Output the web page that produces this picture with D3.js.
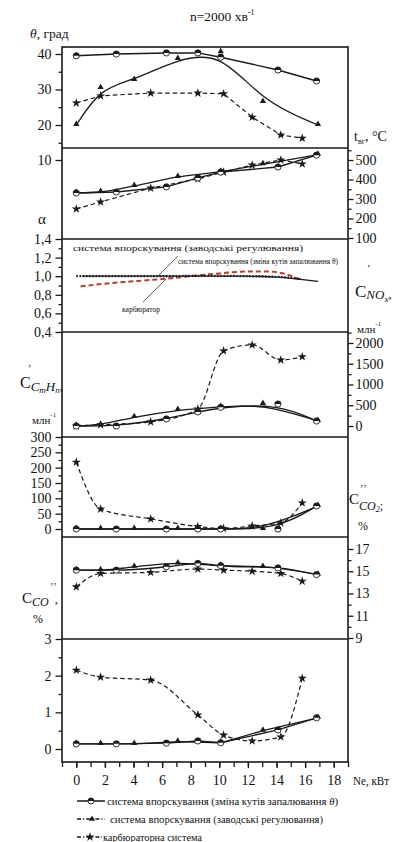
<!DOCTYPE html>
<html>
<head>
<meta charset="utf-8">
<script src="https://cdn.jsdelivr.net/npm/d3@7"></script>
<style>
  body { margin: 0; background: #fff; }
  svg { display: block; }
  text { font-family: "Liberation Serif", "DejaVu Serif", serif; fill: #111; }
</style>
</head>
<body>
<svg id="chart" width="395" height="842"></svg>
<script>
// Ne, кВт of the measured points, per system
const neCirc = [0, 2.8, 6.3, 8.5, 10.1, 14.1, 16.8];      // впорскування, зміна кутів θ
const neTri = [0, 1.7, 4.05, 7.1, 10.1, 13.05, 16.9];      // впорскування, заводські
const neStar = [0, 1.7, 5.2, 8.5, 10.3, 12.3, 14.3, 15.8]; // карбюратор

// θ, град
const thetaCirc = [39.5, 40, 40.3, 40.3, 39.1, 35.5, 32.4];
const thetaTri = [20, 30.4, 32.7, 38.6, 40.5, 26.5, 20];
const thetaStar = [26.2, 28.2, 29, 29, 28.8, 22.2, 17.2, 16.3];

// t_вг, °C
const tCirc = [331, 336, 362, 408, 438, 464, 525];
const tTri = [331, 336, 367, 413, 440, 478, 527];
const tStar = [249, 285, 356, 403, 438, 474, 500, 480];

// α (curves only, no markers)
const neAlphaCirc = [0.4, 3, 6, 9, 12, 14, 16.9];
const alphaCirc = [1.0, 1.0, 1.0, 1.0, 1.0, 0.99, 0.945];
const neAlphaTri = [0, 3, 6, 9, 12, 14.5, 15.7];
const alphaTri = [1.0, 1.0, 1.0, 1.005, 1.0, 0.99, 0.97];
const neAlphaCarb = [0.3, 2, 4, 6, 8, 10, 12, 13.5, 14.7, 15.7];
const alphaCarb = [0.89, 0.92, 0.945, 0.97, 1.0, 1.03, 1.05, 1.05, 1.02, 0.96];

// C'NOx, млн-1
const noxCirc = [0, 0, 170, 340, 450, 530, 120];
const noxTri = [0, 25, 215, 385, 460, 530, 120];
const noxStar = [0, 30, 100, 410, 1810, 1955, 1590, 1670];

// C'CmHn, млн-1
const chCirc = [0, 0, 0, 0, 0, 0, 75];
const chTri = [0, 0, 0, 0, 0, 0, 75];
const chStar = [218, 65, 33, 8, 2, 10, 20, 85];

// C''CO2, %
const co2Circ = [15.1, 15.1, 15.4, 15.7, 15.5, 15.3, 14.7];
const co2Tri = [15.1, 15.1, 15.4, 15.7, 15.5, 15.4, 14.7];
const co2Star = [13.6, 14.8, 14.9, 15.2, 15.1, 15.0, 14.8, 14.1];

// C''CO, %
const coCirc = [0.14, 0.14, 0.16, 0.22, 0.17, 0.52, 0.85];
const coTri = [0.14, 0.14, 0.14, 0.2, 0.17, 0.5, 0.85];
const coStar = [2.15, 1.96, 1.88, 0.93, 0.38, 0.22, 0.33, 1.93];

// tick values
const neTicks = d3.range(0, 19, 2);
const neMinor = d3.range(-1, 20, 1);

const svg = d3.select('#chart');
const L = 62, R = 348, T = 47, B = 762;
const ink = '#1a1a1a';

const x = d3.scaleLinear().domain([-1, 19]).range([L, R]);

const yTheta = d3.scaleLinear().domain([20, 40]).range([125, 54]);
const yT = d3.scaleLinear().domain([100, 500]).range([238, 160]);
const yTen = d3.scaleLinear().domain([0, 10]).range([239, 160]);
const yAlpha = d3.scaleLinear().domain([0.4, 1.4]).range([332, 239]);
const yNOx = d3.scaleLinear().domain([0, 2000]).range([426, 343]);
const yCH = d3.scaleLinear().domain([0, 300]).range([529, 437]);
const yCO2 = d3.scaleLinear().domain([9, 17]).range([638, 549]);
const yCO = d3.scaleLinear().domain([0, 3]).range([749, 639]);

const comma = d => d3.format('.1f')(d).replace('.', ',');

// frame and panel separators
svg.append('rect')
  .attr('x', L).attr('y', T).attr('width', R - L).attr('height', B - T)
  .attr('fill', 'none').attr('stroke', ink).attr('stroke-width', 1.6);

[148, 239, 332, 437, 537, 639].forEach(yy => {
  svg.append('line')
    .attr('x1', L).attr('x2', R).attr('y1', yy).attr('y2', yy)
    .attr('stroke', ink).attr('stroke-width', 1.6);
});

function yAxis(scale, side, major, minor, fmt) {
  const xPos = side === 'left' ? L : R;
  const mk = side === 'left' ? d3.axisLeft : d3.axisRight;
  if (minor.length) {
    const gm = svg.append('g').attr('transform', `translate(${xPos},0)`)
      .call(mk(scale).tickValues(minor).tickSize(3.5).tickFormat(''));
    gm.select('.domain').remove();
    gm.selectAll('line').attr('stroke', ink).attr('stroke-width', 1.3);
  }
  const g = svg.append('g').attr('transform', `translate(${xPos},0)`)
    .call(mk(scale).tickValues(major).tickSize(side === 'left' ? 6.5 : 5.5)
      .tickPadding(side === 'left' ? 4 : 2).tickFormat(fmt || d3.format('d')));
  g.select('.domain').remove();
  g.selectAll('line').attr('stroke', ink).attr('stroke-width', 1.3);
  g.selectAll('text').attr('font-family', '"Liberation Serif", serif')
    .attr('font-size', 14).attr('fill', ink);
}

yAxis(yTheta, 'left', [20, 30, 40], [15, 25, 35]);
yAxis(yTen, 'left', [10], []);
yAxis(yT, 'right', [100, 200, 300, 400, 500], [150, 250, 350, 450, 550]);
yAxis(yAlpha, 'left', [0.4, 0.6, 0.8, 1.0, 1.2, 1.4], [0.5, 0.7, 0.9, 1.1, 1.3], comma);
yAxis(yNOx, 'right', [0, 500, 1000, 1500, 2000], [250, 750, 1250, 1750, 2250]);
yAxis(yCH, 'left', [0, 50, 100, 150, 200, 250, 300], [25, 75, 125, 175, 225, 275]);
yAxis(yCO2, 'right', [9, 11, 13, 15, 17], [10, 12, 14, 16]);
yAxis(yCO, 'left', [0, 1, 2, 3], [0.5, 1.5, 2.5]);

// bottom axis
const gx = svg.append('g').attr('transform', `translate(0,${B})`)
  .call(d3.axisBottom(x).tickValues(neMinor).tickSize(5).tickFormat(''));
gx.select('.domain').remove();
gx.selectAll('line').attr('stroke', ink).attr('stroke-width', 1.3);
const gx2 = svg.append('g').attr('transform', `translate(0,${B})`)
  .call(d3.axisBottom(x).tickValues(neTicks).tickSize(6).tickPadding(7));
gx2.select('.domain').remove();
gx2.selectAll('line').attr('stroke', ink).attr('stroke-width', 1.3);
gx2.selectAll('text').attr('font-family', '"Liberation Serif", serif')
  .attr('font-size', 14).attr('fill', ink);

// markers
const arcTop = d3.arc()({ innerRadius: 0, outerRadius: 3.1, startAngle: -Math.PI / 2, endAngle: Math.PI / 2 });
function circles(xs, ys, y) {
  const g = svg.append('g');
  const pts = d3.zip(xs, ys);
  g.selectAll('circle').data(pts).join('circle')
    .attr('cx', d => x(d[0])).attr('cy', d => y(d[1])).attr('r', 3.1)
    .attr('fill', '#fff').attr('stroke', ink).attr('stroke-width', 0.9);
  g.selectAll('path').data(pts).join('path')
    .attr('d', arcTop)
    .attr('transform', d => `translate(${x(d[0])},${y(d[1])})`)
    .attr('fill', ink);
}
function symbols(xs, ys, y, type, size) {
  svg.append('g').selectAll('path').data(d3.zip(xs, ys)).join('path')
    .attr('d', d3.symbol().type(type).size(size))
    .attr('transform', d => `translate(${x(d[0])},${y(d[1]) - (type === d3.symbolTriangle ? 0.8 : 0)})`)
    .attr('fill', ink);
}
function curve(xs, ys, y, c, dash, width, color) {
  const line = d3.line().x(d => x(d[0])).y(d => y(d[1])).curve(c);
  svg.append('path').datum(d3.zip(xs, ys))
    .attr('d', line).attr('fill', 'none')
    .attr('stroke', color || ink).attr('stroke-width', width || 1.3)
    .attr('stroke-dasharray', dash || null);
}

const panels = [
  { y: yTheta, c: thetaCirc, t: thetaTri, s: thetaStar, cc: d3.curveLinear, tc: d3.curveBasis, sc: d3.curveLinear },
  { y: yT, c: tCirc, t: tTri, s: tStar, cc: d3.curveLinear, tc: d3.curveMonotoneX, sc: d3.curveLinear },
  { y: yNOx, c: noxCirc, t: noxTri, s: noxStar, cc: d3.curveBasis, tc: d3.curveBasis, sc: d3.curveMonotoneX },
  { y: yCH, c: chCirc, t: chTri, s: chStar, cc: d3.curveBasis, tc: d3.curveBasis, sc: d3.curveMonotoneX },
  { y: yCO2, c: co2Circ, t: co2Tri, s: co2Star, cc: d3.curveMonotoneX, tc: d3.curveMonotoneX, sc: d3.curveMonotoneX },
  { y: yCO, c: coCirc, t: coTri, s: coStar, cc: d3.curveLinear, tc: d3.curveLinear, sc: d3.curveMonotoneX }
];

panels.forEach(p => {
  curve(neStar, p.s, p.y, p.sc, '4.5,3', 1.2);
  curve(neTri, p.t, p.y, p.tc, null, 1.3);
  curve(neCirc, p.c, p.y, p.cc, null, 1.4);
  symbols(neStar, p.s, p.y, d3.symbolStar, 26);
  symbols(neTri, p.t, p.y, d3.symbolTriangle, 17);
  circles(neCirc, p.c, p.y);
});

// α panel
curve(neAlphaCarb, alphaCarb, yAlpha, d3.curveMonotoneX, '5,3', 2, '#c0392b');
curve(neAlphaCirc, alphaCirc, yAlpha, d3.curveMonotoneX, null, 1.3);
curve(neAlphaTri, alphaTri, yAlpha, d3.curveMonotoneX, '1.6,1.6', 2.2);

function note(txt, x0, y0, size, len) {
  svg.append('text').attr('x', x0).attr('y', y0).attr('font-size', size).attr('fill', '#333')
    .attr('textLength', len).attr('lengthAdjust', 'spacingAndGlyphs').text(txt);
}
note('система впорскування (заводські регулювання)', 73, 251, 8.5, 230);
note('система впорскування (зміна кутів запалювання θ)', 178, 264, 7.5, 160);
note('карбюратор', 122, 312, 8, 38);
svg.append('line').attr('x1', 178).attr('y1', 256).attr('x2', 158).attr('y2', 276)
  .attr('stroke', ink).attr('stroke-width', 0.7);
svg.append('line').attr('x1', 143).attr('y1', 302).attr('x2', 166).attr('y2', 279)
  .attr('stroke', ink).attr('stroke-width', 0.7);

// titles and axis names
const title = svg.append('text').attr('x', 190).attr('y', 21).attr('font-size', 13.5);
title.append('tspan').text('n=2000 хв');
title.append('tspan').attr('font-size', 8).attr('dy', -6).text('-1');

const th = svg.append('text').attr('x', 30).attr('y', 38).attr('font-size', 13.5);
th.append('tspan').attr('font-style', 'italic').text('θ');
th.append('tspan').text(', град');

const tv = svg.append('text').attr('x', 354).attr('y', 141).attr('font-size', 14);
tv.append('tspan').text('t');
tv.append('tspan').attr('font-size', 8).attr('dy', 3).text('вг');
tv.append('tspan').attr('dy', -3).text(', °C');

svg.append('text').attr('x', 38).attr('y', 224).attr('font-size', 15).text('α');

// C'NOx
const nox = svg.append('text').attr('x', 355).attr('y', 297).attr('font-size', 17);
nox.append('tspan').text('C');
nox.append('tspan').attr('font-size', 13).attr('font-style', 'italic').attr('dy', 2).text('NO');
nox.append('tspan').attr('font-size', 9).attr('font-style', 'italic').attr('dy', 3).text('x');
nox.append('tspan').attr('font-size', 13).attr('dy', -4).text(',');
svg.append('text').attr('x', 367).attr('y', 272).attr('font-size', 10).text('\u02bc');
const u1 = svg.append('text').attr('x', 357).attr('y', 333).attr('font-size', 11);
u1.append('tspan').text('млн');
u1.append('tspan').attr('font-size', 7).attr('dy', -7).text('-1');

// C'CmHn
const ch = svg.append('text').attr('x', 20).attr('y', 388).attr('font-size', 16);
ch.append('tspan').text('C');
ch.append('tspan').attr('font-size', 13).attr('font-style', 'italic').attr('dy', 3).text('C');
ch.append('tspan').attr('font-size', 9).attr('font-style', 'italic').attr('dy', 2).text('m');
ch.append('tspan').attr('font-size', 13).attr('font-style', 'italic').attr('dy', -2).text('H');
ch.append('tspan').attr('font-size', 9).attr('font-style', 'italic').attr('dy', 2).text('n');
ch.append('tspan').attr('font-size', 13).attr('dy', -3).text(',');
svg.append('text').attr('x', 28).attr('y', 372).attr('font-size', 10).text('\u02bc');
const u2 = svg.append('text').attr('x', 32).attr('y', 424).attr('font-size', 11);
u2.append('tspan').text('млн');
u2.append('tspan').attr('font-size', 7).attr('dy', -7).text('-1');

// C''CO2
const co2 = svg.append('text').attr('x', 349).attr('y', 504).attr('font-size', 15);
co2.append('tspan').text('C');
co2.append('tspan').attr('font-size', 12).attr('font-style', 'italic').attr('dy', 6).text('CO');
co2.append('tspan').attr('font-size', 8).attr('font-style', 'italic').attr('dy', 2).text('2');
co2.append('tspan').attr('font-size', 12).attr('dy', -2).text(';');
svg.append('text').attr('x', 360).attr('y', 492).attr('font-size', 10).text('\u02bc\u02bc');
svg.append('text').attr('x', 358).attr('y', 530).attr('font-size', 12).text('%');

// C''CO
const co = svg.append('text').attr('x', 22).attr('y', 603).attr('font-size', 15);
co.append('tspan').text('C');
co.append('tspan').attr('font-size', 12).attr('font-style', 'italic').attr('dy', 3).text('CO');
co.append('tspan').attr('font-size', 12).attr('dx', 6).attr('dy', -3).text(',');
svg.append('text').attr('x', 50).attr('y', 590).attr('font-size', 10).text('\u02bc\u02bc');
svg.append('text').attr('x', 33).attr('y', 623).attr('font-size', 12).text('%');

svg.append('text').attr('x', 353).attr('y', 785).attr('font-size', 13)
  .attr('textLength', 36).attr('lengthAdjust', 'spacingAndGlyphs').text('Ne, кВт');

// legend
const legend = [
  { y: 801, dash: null, mark: 'c', tx: 107, len: 231, label: 'система впорскування (зміна кутів запалювання θ)' },
  { y: 819, dash: '4,2,1.2,2', mark: 't', tx: 110, len: 213, label: 'система впорскування (заводські регулювання)' },
  { y: 837, dash: '4,2,1.2,2', mark: 's', tx: 103, len: 99, label: 'карбюраторна система' }
];
legend.forEach(d => {
  svg.append('line').attr('x1', 77).attr('x2', d.mark === 's' ? 102 : 105)
    .attr('y1', d.y).attr('y2', d.y).attr('stroke', ink).attr('stroke-width', 1.5)
    .attr('stroke-dasharray', d.dash);
  if (d.mark === 'c') {
    svg.append('circle').attr('cx', 91).attr('cy', d.y).attr('r', 3)
      .attr('fill', '#fff').attr('stroke', ink).attr('stroke-width', 0.9);
    svg.append('path').attr('d', arcTop).attr('transform', `translate(91,${d.y})`).attr('fill', ink);
  } else {
    svg.append('path')
      .attr('d', d3.symbol().type(d.mark === 't' ? d3.symbolTriangle : d3.symbolStar).size(d.mark === 't' ? 17 : 26))
      .attr('transform', `translate(${d.mark === 't' ? 92 : 90},${d.y})`).attr('fill', ink);
  }
  const t = svg.append('text').attr('x', d.tx).attr('y', d.y + 4).attr('font-size', 10.5)
    .attr('textLength', d.len).attr('lengthAdjust', 'spacingAndGlyphs');
  if (d.mark === 'c') {
    t.append('tspan').text('система впорскування (зміна кутів запалювання ');
    t.append('tspan').attr('font-style', 'italic').text('θ');
    t.append('tspan').text(')');
  } else {
    t.text(d.label);
  }
});
</script>
</body>
</html>
